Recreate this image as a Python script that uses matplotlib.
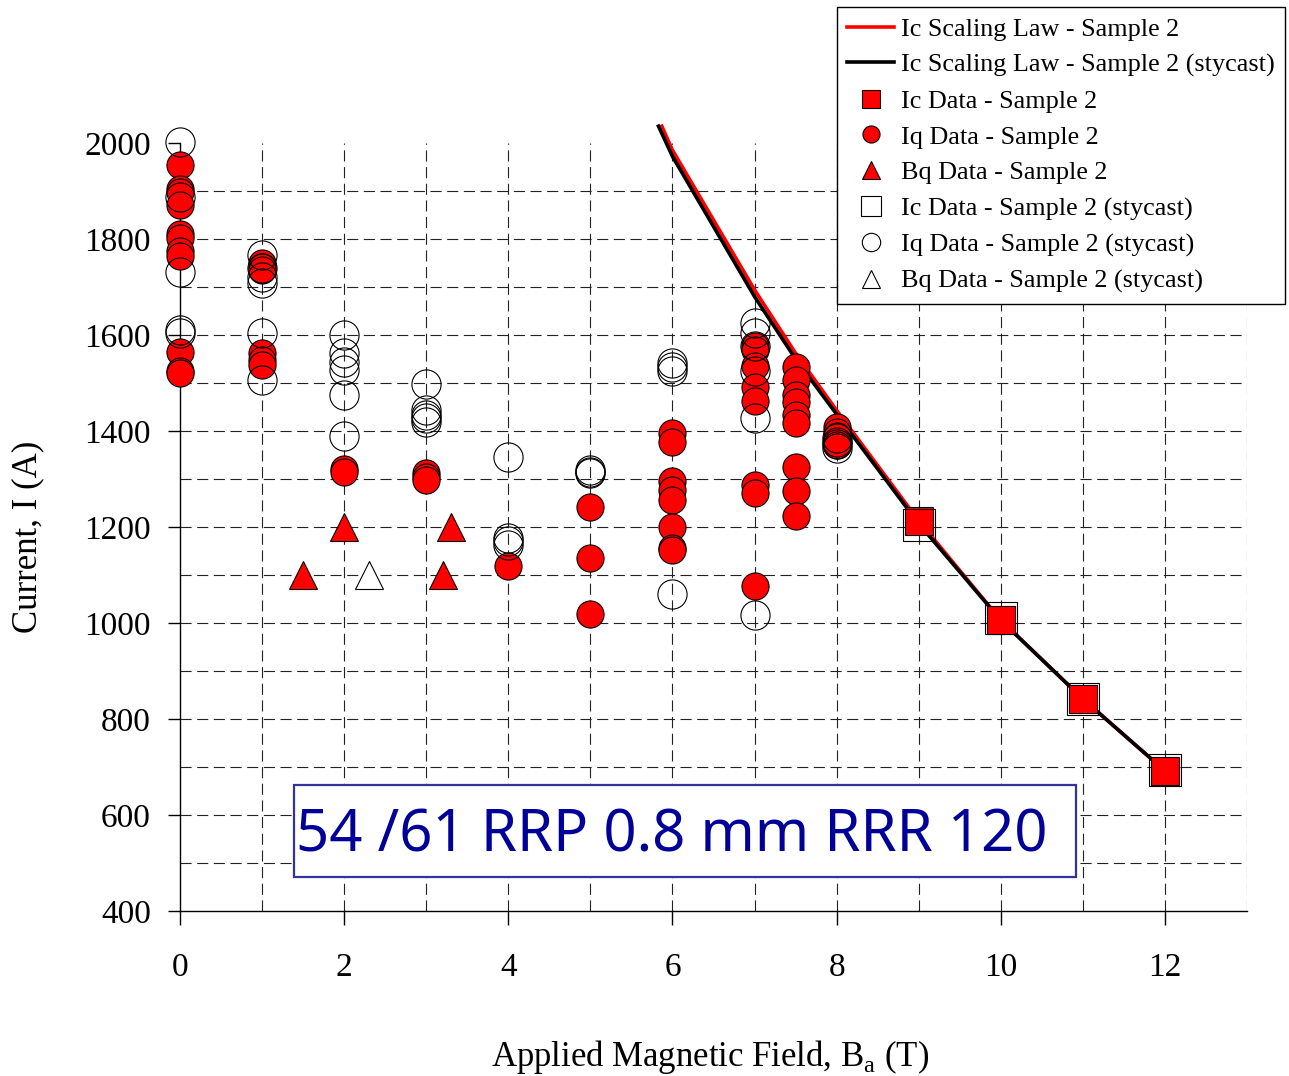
import matplotlib
matplotlib.use("Agg")
import matplotlib.pyplot as plt
from matplotlib.patches import Rectangle

plt.rcParams['font.family'] = ['Liberation Serif', 'DejaVu Serif']
plt.rcParams['mathtext.fontset'] = 'custom'
plt.rcParams['mathtext.rm'] = 'Liberation Serif'

# ---------------- data ----------------
law_x = [5.87, 6, 7, 7.5, 8, 9, 10, 11, 12]
law_y = [2035, 1985, 1694, 1562, 1443, 1213, 1006, 842, 692]
law_sty_x = [5.83, 6, 7, 7.5, 8, 9, 10, 11, 12]
law_sty_y = [2035, 1972, 1680, 1550, 1435, 1207, 1006, 842, 692]

ic_x = [9, 10, 11, 12]
ic_y = [1213, 1006, 842, 692]
ic_sty_x = [9, 10, 11, 12]
ic_sty_y = [1204, 1010, 842, 694]

iq_x = [0]*11 + [1]*6 + [2]*2 + [3]*3 + [4] + [5]*3 + [6]*8 + [7]*8 + [7.5]*9 + [8]*4
iq_y = [1955, 1905, 1898, 1870, 1810, 1803, 1775, 1765, 1565, 1525, 1520,
        1750, 1742, 1735, 1562, 1548, 1537,
        1320, 1315,
        1312, 1304, 1298,
        1119,
        1242, 1136, 1019,
        1396, 1378, 1295, 1277, 1256, 1201, 1156, 1152,
        1578, 1568, 1535, 1492, 1462, 1287, 1270, 1077,
        1534, 1506, 1475, 1461, 1433, 1417, 1326, 1275, 1222,
        1408, 1398, 1390, 1370]

iq_sty_x = [0]*5 + [1]*6 + [2]*6 + [3]*5 + [4]*4 + [5]*3 + [6]*4 + [7]*6 + [8]*4
iq_sty_y = [2003, 1888, 1732, 1610, 1604,
            1767, 1740, 1721, 1708, 1604, 1506,
            1600, 1562, 1544, 1527, 1475, 1390,
            1498, 1444, 1433, 1427, 1419,
            1346, 1177, 1170, 1163,
            1319, 1315, 1312,
            1542, 1534, 1524, 1060,
            1625, 1605, 1578, 1524, 1427, 1017,
            1385, 1378, 1372, 1365]

bq_x = [1.5, 2, 3.2, 3.3]
bq_y = [1100, 1200, 1100, 1200]
bq_sty_x = [2.3]
bq_sty_y = [1100]

x_ticks = [0, 2, 4, 6, 8, 10, 12]
x_grid = list(range(1, 14))
y_ticks = list(range(400, 2001, 200))
y_grid = list(range(500, 2000, 100))

labels = ['Ic Scaling Law - Sample 2', 'Ic Scaling Law - Sample 2 (stycast)',
          'Ic Data - Sample 2', 'Iq Data - Sample 2', 'Bq Data - Sample 2',
          'Ic Data - Sample 2 (stycast)', 'Iq Data - Sample 2 (stycast)',
          'Bq Data - Sample 2 (stycast)']
note = '54 /61 RRP 0.8 mm RRR 120'

# ---------------- figure ----------------
fig = plt.figure(figsize=(12.89, 10.76), dpi=100)
ax = fig.add_axes([180/1289, 1-911/1076, (1247-180)/1289, (911-143)/1076])
ax.set_xlim(0, 13)
ax.set_ylim(400, 2000)

for s in ['top', 'right']:
    ax.spines[s].set_visible(False)
for s in ['left', 'bottom']:
    ax.spines[s].set_linewidth(1.0)

gkw = dict(color='#222222', lw=0.8, linestyle=(0, (10, 5)), zorder=1)
ax.vlines(x_grid, 400, 2000, **gkw)
ax.hlines(y_grid, 0, 13, **gkw)

ax.set_xticks(x_ticks)
ax.set_yticks(y_ticks)
ax.tick_params(axis='x', direction='out', length=10, width=1, pad=20, labelsize=24)
ax.tick_params(axis='y', direction='out', length=9, width=1, pad=12, labelsize=24)

ms_f = 19.5
h1, = ax.plot(law_x, law_y, color='#FF0000', lw=2.6, zorder=2, clip_on=False)
h2, = ax.plot(law_sty_x, law_sty_y, color='black', lw=2.6, zorder=2.1, clip_on=False)
h3, = ax.plot(ic_x, ic_y, 's', ms=ms_f, mfc='#FF0000', mec='black', mew=0.8, zorder=3, clip_on=False)
h4, = ax.plot(iq_x, iq_y, 'o', ms=ms_f, mfc='#FF0000', mec='black', mew=0.8, zorder=3, clip_on=False)
h5, = ax.plot(bq_x, bq_y, '^', ms=20, mfc='#FF0000', mec='black', mew=0.8, zorder=3, clip_on=False)
h6, = ax.plot(ic_sty_x, ic_sty_y, 's', ms=23, mfc='none', mec='black', mew=0.8, zorder=4, clip_on=False)
h7, = ax.plot(iq_sty_x, iq_sty_y, 'o', ms=21, mfc='none', mec='black', mew=0.8, zorder=4, clip_on=False)
h8, = ax.plot(bq_sty_x, bq_sty_y, '^', ms=20, mfc='white', mec='black', mew=0.8, zorder=4, clip_on=False)

leg = fig.legend([h1, h2, h3, h4, h5, h6, h7, h8], labels,
                 loc='upper right', bbox_to_anchor=(1285/1289, 1-7/1076),
                 fontsize=18.8, markerscale=0.63, frameon=True, fancybox=False,
                 edgecolor='black', framealpha=1, borderpad=0.4,
                 handlelength=1.8, handletextpad=0.25, labelspacing=0.48,
                 borderaxespad=0)
leg.get_frame().set_linewidth(1.0)

fig.text(28/1289, 1-537/1076, 'Current, I (A)', rotation=90, ha='center', va='center', fontsize=25)
fig.text(710/1289, 1-1057/1076, r'Applied Magnetic Field, B$_\mathregular{a}$ (T)',
         ha='center', va='center', fontsize=25)

box = Rectangle((294/1289, 1-877/1076), (1076-294)/1289, (877-785)/1076,
                transform=fig.transFigure, facecolor='white', edgecolor='#333399',
                lw=1.6, zorder=5)
ax.add_artist(box)
box.set_clip_on(False)
t = ax.text(296/1289, 1-852/1076, note, transform=fig.transFigure, ha='left', va='baseline',
            fontsize=41.8, color='#000099', family=['Noto Sans', 'DejaVu Sans'], zorder=6)

fig.savefig('out.png', dpi=100)
